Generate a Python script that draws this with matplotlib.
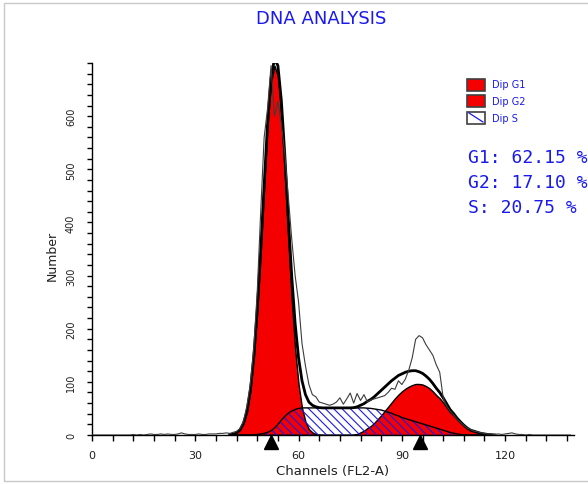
import matplotlib
matplotlib.use("Agg")
import matplotlib.pyplot as plt
from matplotlib.patches import Rectangle
from matplotlib.lines import Line2D
from matplotlib.ticker import MultipleLocator, FixedLocator
import numpy as np

# ---- data -------------------------------------------------------------
# Fitted model components, one value per channel (channels 40 .. 117)
fit_channels = list(range(40, 118))
g1_fit = [0.5, 1.5, 4, 10, 22, 44, 84, 147, 235, 345,
          467, 582, 663, 695, 675, 601, 492, 369, 255, 162,
          95, 51, 25, 11, 5, 2, 0.5, 0, 0, 0,
          0, 0, 0, 0, 0, 0, 0, 0, 0, 0,
          0, 0, 0, 0, 0, 0, 0, 0, 0, 0,
          0, 0, 0, 0, 0, 0, 0, 0, 0, 0,
          0, 0, 0, 0, 0, 0, 0, 0, 0, 0,
          0, 0, 0, 0, 0, 0, 0, 0]
s_fit = [0, 0, 0, 0, 0, 0, 0, 0.5, 1, 2,
         3, 5, 8, 13, 20, 28, 35, 41, 45, 48,
         50, 51, 51, 51, 51, 51, 51, 51, 51, 51,
         51, 51, 51, 51, 51, 51, 51, 51, 51, 51,
         50.5, 50, 49, 48, 47, 45, 43, 41, 38, 36,
         33, 31, 29, 27, 25, 23, 21, 19, 17, 15,
         13, 11, 9, 7, 5, 3.5, 2, 1, 0.5, 0,
         0, 0, 0, 0, 0, 0, 0, 0]
g2_fit = [0, 0, 0, 0, 0, 0, 0, 0, 0, 0,
          0, 0, 0, 0, 0, 0, 0, 0, 0, 0,
          0, 0, 0, 0, 0, 0, 0, 0, 0, 0,
          0, 0, 0, 0, 0, 0, 0.5, 2, 5, 8,
          13, 17, 23, 30, 37, 45, 53, 61, 69, 76,
          82, 87, 91, 94, 96, 96, 95, 92, 88, 82,
          75, 69, 61, 52, 43, 37, 30, 24, 18, 13,
          9, 7, 5, 3, 2, 1, 0.5, 0]

# Measured histogram, channels 0 .. 139
raw_channels = list(range(0, 140))
raw_counts = [0, 0, 0, 0, 0, 0, 0, 0, 0, 0,
              0, 0, 1, 0, 1, 0, 1, 2, 1, 1,
              2, 1, 2, 1, 1, 2, 4, 2, 1, 1,
              1, 2, 1, 1, 2, 2, 2, 3, 3, 4,
              3, 5, 7, 12, 26, 55, 97, 165, 270, 420,
              560, 615, 695, 600, 628, 585, 530, 450, 370, 300,
              250, 172, 130, 95, 76, 72, 62, 60, 58, 56,
              58, 62, 70, 58, 68, 79, 60, 78, 65, 76,
              62, 66, 68, 70, 72, 74, 80, 88, 86, 102,
              95, 105, 122, 145, 180, 187, 183, 170, 160, 150,
              132, 118, 70, 55, 45, 38, 30, 24, 18, 13,
              10, 7, 6, 4, 3, 2, 2, 1, 2, 1,
              2, 3, 4, 2, 1, 1, 0, 1, 0, 0,
              0, 0, 0, 0, 0, 0, 0, 0, 0, 0]

# Peak position markers on the channel axis
peak_markers = [52.0, 95.3]

x_tick_labels = [0, 30, 60, 90, 120]
y_tick_labels = [0, 100, 200, 300, 400, 500, 600]

legend_labels = ["Dip G1", "Dip G2", "Dip S"]
phase_names = ["G1", "G2", "S"]
phase_pct = [62.15, 17.10, 20.75]

# ---- styling ----------------------------------------------------------
RED = "#f50000"
BLUE = "#1a1aee"
plt.rcParams["font.family"] = ["DejaVu Sans"]
plt.rcParams["hatch.linewidth"] = 0.8

W, H = 588, 485
fig = plt.figure(figsize=(W / 100, H / 100), dpi=100)
fig.patch.set_facecolor("white")


def fx(px):
    return px / W


def fy(py):
    return 1 - py / H


ax = fig.add_axes([fx(92), fy(436), fx(574) - fx(92), fy(64) - fy(436)])
ax.set_facecolor("white")

ch = np.array(fit_channels)
g1 = np.array(g1_fit)
s = np.array(s_fit)
g2 = np.array(g2_fit)
total = g1 + s + g2

# filled G1 / G2 components
ax.fill_between(ch, 0, g1, facecolor=RED, edgecolor="black", linewidth=1.0, zorder=2)
ax.fill_between(ch, 0, g2, facecolor=RED, edgecolor="black", linewidth=1.0, zorder=2)
# hatched S-phase component
ax.fill_between(ch, 0, s, facecolor="none", edgecolor=BLUE, hatch="\\\\\\\\",
                linewidth=0, zorder=3)
ax.plot(ch, s, color="black", linewidth=1.0, zorder=4)
# model sum
ax.plot(ch, total, color="black", linewidth=2.0, zorder=5)
# measured histogram
ax.plot(raw_channels, raw_counts, color="#3c3c3c", linewidth=0.8, zorder=6)

# peak markers below the axis
ax.plot(peak_markers, [-13.2] * len(peak_markers), linestyle="none", marker="^",
        markersize=10.5, color="black", clip_on=False, zorder=7)

ax.set_xlim(0, 140)
ax.set_ylim(0, 700)
for side in ("top", "right"):
    ax.spines[side].set_visible(False)
for side in ("left", "bottom"):
    ax.spines[side].set_linewidth(1.0)
    ax.spines[side].set_color("black")

ax.xaxis.set_major_locator(FixedLocator(x_tick_labels))
ax.xaxis.set_minor_locator(MultipleLocator(6))
ax.yaxis.set_major_locator(FixedLocator(y_tick_labels))
ax.yaxis.set_minor_locator(MultipleLocator(20))
ax.tick_params(axis="x", which="both", direction="out", length=4.2, width=1,
               color="black", labelsize=8, labelcolor="#202020", pad=6.5)
ax.tick_params(axis="y", which="both", direction="out", length=3.6, width=1,
               color="black", labelsize=7, labelcolor="#202020", pad=8,
               labelrotation=90)
for lbl in ax.get_yticklabels():
    lbl.set_verticalalignment("center")

ax.set_xlabel("Channels (FL2-A)", fontsize=9.5, color="#202020")
ax.xaxis.set_label_coords(0.5, (436 - 465) / 372)
ax.set_ylabel("Number", fontsize=9, color="#202020")
ax.yaxis.set_label_coords((59 - 92) / 482, (436 - 256) / 372)

# title
fig.text(fx(321), fy(19.5), "DNA ANALYSIS", color=BLUE, fontsize=13,
         ha="center", va="center")

# legend boxes
rows = [85.5, 102, 118.5]
for label, yc, hatched in zip(legend_labels, rows, [False, False, True]):
    x0, y0 = fx(467), fy(yc + 6)
    if hatched:
        fig.add_artist(Rectangle((x0, y0), fx(18), 12 / H,
                                 transform=fig.transFigure, facecolor="white",
                                 edgecolor="none"))
        fig.add_artist(Line2D([fx(469), fx(483)], [fy(yc - 4.5), fy(yc + 4.5)],
                              transform=fig.transFigure, color=BLUE, linewidth=0.9))
        fig.add_artist(Rectangle((x0, y0), fx(18), 12 / H,
                                 transform=fig.transFigure, facecolor="none",
                                 edgecolor="#404040", linewidth=1.2))
    else:
        fig.add_artist(Rectangle((x0, y0), fx(18), 12 / H,
                                 transform=fig.transFigure, facecolor=RED,
                                 edgecolor="#404040", linewidth=1.2))
    fig.text(fx(492), fy(yc), label, color=BLUE, fontsize=7, ha="left", va="center")

# phase percentages
for name, pct, yc in zip(phase_names, phase_pct, [158, 183, 208]):
    fig.text(fx(468), fy(yc), f"{name}: {pct:.2f} %", color=BLUE, fontsize=13,
             family="DejaVu Sans Mono", ha="left", va="center")

# outer frame (open on the right)
fig.add_artist(Rectangle((fx(3.5), fy(481.5)), 1.05, (481.5 - 3.5) / H,
                         transform=fig.transFigure, fill=False,
                         edgecolor="#c8c8c8", linewidth=1.0))

fig.savefig("out.png", dpi=100, facecolor="white")
